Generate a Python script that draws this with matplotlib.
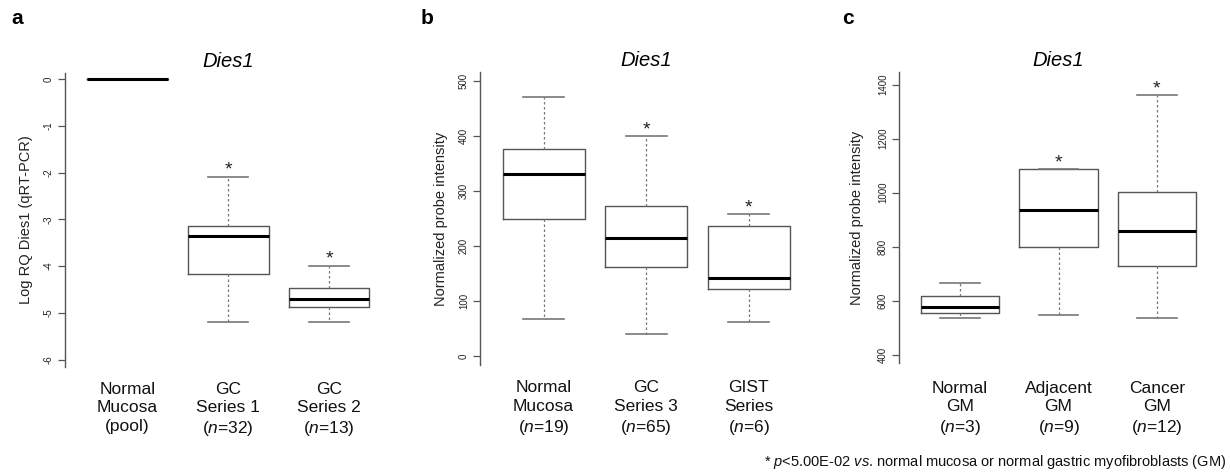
import matplotlib
matplotlib.use("Agg")
import matplotlib.pyplot as plt

plt.rcParams['font.family'] = ['Liberation Sans', 'DejaVu Sans']
plt.rcParams['mathtext.fontset'] = 'custom'
plt.rcParams['mathtext.rm'] = 'Liberation Sans'
plt.rcParams['mathtext.it'] = 'Liberation Sans:italic'

# ---- data ----
a_labels = ["Normal\nMucosa\n(pool)", "GC\nSeries 1\n($n$=32)", "GC\nSeries 2\n($n$=13)"]
a_whislo = [0.0, -5.20, -5.19]
a_q1 = [0.0, -4.17, -4.87]
a_med = [0.0, -3.36, -4.70]
a_q3 = [0.0, -3.15, -4.47]
a_whishi = [0.0, -2.09, -3.99]
a_star = [False, True, True]
a_ticks = [0, -1, -2, -3, -4, -5, -6]

b_labels = ["Normal\nMucosa\n($n$=19)", "GC\nSeries 3\n($n$=65)", "GIST\nSeries\n($n$=6)"]
b_whislo = [68, 41, 63]
b_q1 = [250, 163, 123]
b_med = [331, 215, 142]
b_q3 = [377, 272, 236]
b_whishi = [470, 400, 258]
b_star = [False, True, True]
b_ticks = [0, 100, 200, 300, 400, 500]

c_labels = ["Normal\nGM\n($n$=3)", "Adjacent\nGM\n($n$=9)", "Cancer\nGM\n($n$=12)"]
c_whislo = [534, 546, 535]
c_q1 = [554, 799, 729]
c_med = [575, 934, 858]
c_q3 = [619, 1087, 1003]
c_whishi = [666, 1087, 1361]
c_star = [False, True, True]
c_ticks = [400, 600, 800, 1000, 1200, 1400]

W, H = 1230, 475
fig = plt.figure(figsize=(W / 100, H / 100), dpi=100)


def make_ax(l, r, t, b):
    return fig.add_axes([l / W, 1 - b / H, (r - l) / W, (b - t) / H])


panels = [
    dict(box=(65, 391.6, 72.7, 366.7), ylim=(-6.15, 0.135), labels=a_labels,
         lo=a_whislo, q1=a_q1, med=a_med, q3=a_q3, hi=a_whishi, star=a_star,
         ticks=a_ticks, ylabel="Log RQ Dies1 (qRT-PCR)", ylx=26, letter="a", letx=17,
         xpad=11),
    dict(box=(480, 812.5, 72, 365), ylim=(-15.7, 516), labels=b_labels,
         lo=b_whislo, q1=b_q1, med=b_med, q3=b_q3, hi=b_whishi, star=b_star,
         ticks=b_ticks, ylabel="Normalized probe intensity", ylx=441, letter="b", letx=427,
         xpad=11),
    dict(box=(899, 1218, 72, 363), ylim=(369, 1447), labels=c_labels,
         lo=c_whislo, q1=c_q1, med=c_med, q3=c_q3, hi=c_whishi, star=c_star,
         ticks=c_ticks, ylabel="Normalized probe intensity", ylx=857, letter="c", letx=848,
         xpad=13),
]

for p in panels:
    l, r, t, b = p["box"]
    ax = make_ax(l, r, t, b)
    stats = []
    for i in range(len(p["labels"])):
        stats.append(dict(med=p["med"][i], q1=p["q1"][i], q3=p["q3"][i],
                          whislo=p["lo"][i], whishi=p["hi"][i], fliers=[]))
    pos = list(range(1, len(stats) + 1))
    ax.bxp(stats, positions=pos, widths=0.8, capwidths=0.4, showfliers=False,
           boxprops=dict(color="#555555", linewidth=1.0),
           medianprops=dict(color="black", linewidth=2.2),
           whiskerprops=dict(color="#777777", linewidth=0.9, linestyle=(0, (2, 2))),
           capprops=dict(color="#777777", linewidth=1.2))
    for i, s in enumerate(p["star"]):
        if s:
            ax.annotate("*", (pos[i], p["hi"][i]), xytext=(0, -1.5),
                        textcoords="offset points", ha="center", va="bottom",
                        fontsize=14, color="#222222")
    ax.set_xlim(0.38, len(stats) + 0.62)
    ax.set_ylim(*p["ylim"])
    for sp in ["top", "right", "bottom"]:
        ax.spines[sp].set_visible(False)
    ax.spines["left"].set_color("#555555")
    ax.spines["left"].set_linewidth(1.0)
    ax.set_xticks(pos)
    ax.set_xticklabels(p["labels"], fontsize=12.5, color="#111111", linespacing=1.28)
    ax.tick_params(axis="x", length=0, pad=p["xpad"])
    ax.set_yticks(p["ticks"])
    ax.set_yticklabels([str(v) for v in p["ticks"]], rotation=90, va="center",
                       fontsize=7, color="#222222")
    ax.tick_params(axis="y", length=5, width=0.9, color="#555555", pad=3)
    ax.set_title("Dies1", fontsize=14.5, style="italic", pad=4)
    ax.set_ylabel(p["ylabel"], fontsize=10.5, color="#222222", va="center")
    ax.yaxis.set_label_coords((p["ylx"] - l) / (r - l), 0.5)
    fig.text(p["letx"] / W, 1 - 19 / H, p["letter"], fontsize=15, fontweight="bold",
             ha="center", va="center")

fig.text(1226 / W, 1 - 462 / H,
         "* $p$<5.00E-02 $vs$. normal mucosa or normal gastric myofibroblasts (GM)",
         ha="right", va="center", fontsize=10.5, color="#111111")

fig.savefig("out.png", dpi=100, facecolor="white")
